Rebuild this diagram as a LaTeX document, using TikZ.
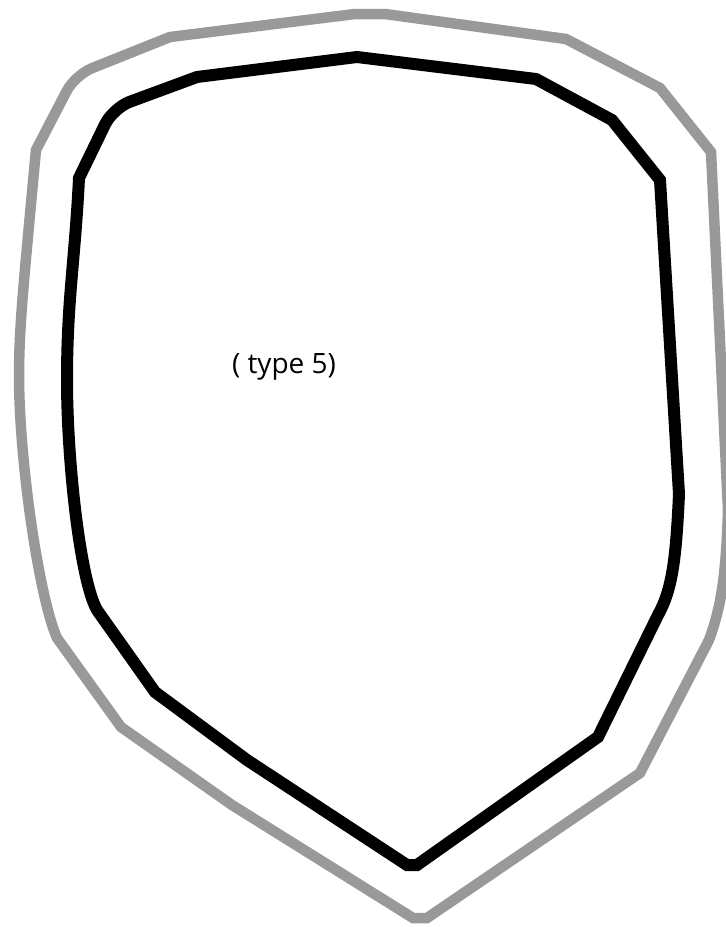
\documentclass[tikz,border=0pt]{standalone}
\usepackage{fontspec}
\setmainfont{Open Sans}
\definecolor{shieldgray}{RGB}{153,153,153}

\begin{document}
\begin{tikzpicture}[x=1pt,y=-1pt]
		\useasboundingbox (0,0) rectangle (726,927);
		\def\outline{ (355,14) -- (385,14) -- (566,39) -- (660,88) -- (711,152) -- (728,510)
			.. controls (726,580) and (720,610) .. (709,640) -- (640,773) -- (427,918) -- (413,918)
			-- (232,805) -- (121,727) -- (57,638) .. controls (40,600) and (20,470) .. (19,380)
			.. controls (19,330) and (22,300) .. (36,150) [rounded corners=18pt] -- (75,75) [sharp corners] -- (170,37) -- cycle};
		\def\inline{ (357,57) -- (536,79) -- (612,120) -- (660,180) -- (679,494)
			.. controls (676,560) and (672,590) .. (658,615) -- (598,737) -- (417,865) -- (407,865)
			-- (247,760) -- (155,692) -- (97,610) .. controls (80,580) and (67,460) .. (67,380)
			.. controls (67,300) and (75,260) .. (79,178) [rounded corners=18pt] -- (113,108) [sharp corners] -- (197,77) -- cycle};
		\draw[shieldgray, line width=10.5pt] \outline;
		\draw[black, line width=12pt] \inline;

		\node[anchor=base, inner sep=0pt, font=\fontsize{28}{32}\selectfont] (label) at (284,373) {( type 5)};
	\end{tikzpicture}
\end{document}
